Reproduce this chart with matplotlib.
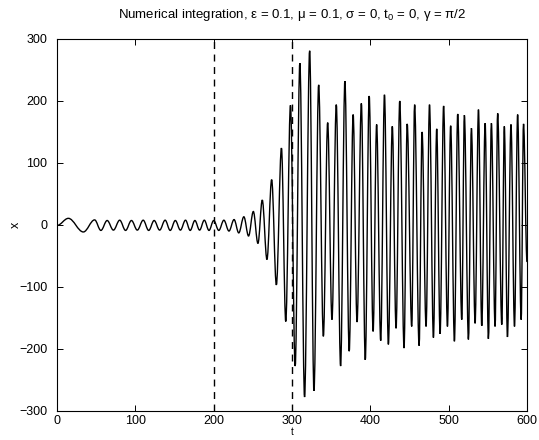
import numpy as np
import matplotlib
matplotlib.use("Agg")
import matplotlib.pyplot as plt
from matplotlib.path import Path
import matplotlib.patches as patches

# === DATA ===
t_start, x_start = 0.0, -1.0
t_end, x_end = 600.0, -60.0

# local maxima of x(t)
t_peak = [14.5, 48, 64, 80, 95, 110, 124, 138, 151, 164, 176, 188, 200, 213,
          226, 238.5, 250.6, 262, 274, 286.5, 298, 310, 322.5, 334, 345.5,
          356.5, 367.5, 378, 388.5, 398.5, 408, 418, 428, 437.5, 447, 456.5,
          466, 475.5, 484.7, 493.5, 502.5, 511.5, 520, 529, 538, 546.5, 554.5,
          562.5, 571, 579.5, 588, 595.5]
x_peak = [10.5, 8, 7, 7.5, 7, 7.5, 7, 7.5, 7, 7.5, 7, 7.5, 7, 7.5,
          8.5, 13, 21.5, 40, 73, 124, 193, 261, 281, 226, 165,
          194, 232, 178, 196, 208, 162, 210, 159, 200, 163, 194,
          150, 194, 155, 192, 160, 179, 177, 156, 186, 164, 164,
          180, 159, 162, 178, 163]

# local minima of x(t)
t_trough = [33.6, 56, 72, 87.5, 102.5, 117, 131, 144.5, 157.5, 170, 182, 194,
            206.5, 219.5, 232, 244.5, 256.5, 268, 280, 292, 304, 316, 328,
            340, 351, 362, 373, 383, 393.5, 403.5, 413.2, 423, 432.8, 443,
            452.8, 462.2, 471.1, 480.5, 489, 498.4, 507.3, 516.7, 525.2,
            533.7, 542.2, 550.7, 559.2, 567.8, 575, 584, 592.5]
x_trough = [-11.5, -9, -8.5, -9, -8.5, -9, -8.5, -9, -8.5, -9, -8.5, -9,
            -9, -10, -13, -18, -30, -56, -97, -156, -228, -278, -268,
            -180, -153, -228, -204, -157, -218, -172, -187, -193, -167, -199,
            -164, -195, -164, -182, -176, -164, -188, -153, -185,
            -159, -163, -184, -164, -161, -181, -164, -153]

t_marks = [200, 300]
x_ticks = [0, 100, 200, 300, 400, 500, 600]
y_ticks = [-300, -200, -100, 0, 100, 200, 300]

TITLE = r"Numerical integration, ε = 0.1, μ = 0.1, σ = 0, t$_0$ = 0, γ = π/2"

# === STYLE ===
plt.rcParams['font.family'] = ['Liberation Sans', 'DejaVu Sans']
plt.rcParams['mathtext.fontset'] = 'custom'
plt.rcParams['mathtext.rm'] = 'Liberation Sans'
plt.rcParams['mathtext.default'] = 'regular'

# === PLOT ===
t = np.concatenate([[t_start], t_peak, t_trough, [t_end]])
x = np.concatenate([[x_start], x_peak, x_trough, [x_end]])
order = np.argsort(t)
t, x = t[order], x[order]

# smooth swing between successive extrema: cubic bezier with flat tangents
verts = [(t[0], x[0])]
codes = [Path.MOVETO]
k = 0.36
for i in range(len(t) - 1):
    dt = t[i + 1] - t[i]
    verts += [(t[i] + k * dt, x[i]), (t[i + 1] - k * dt, x[i + 1]),
              (t[i + 1], x[i + 1])]
    codes += [Path.CURVE4] * 3

fig = plt.figure(figsize=(5.39, 4.40), dpi=100)
ax = fig.add_axes([0.1058, 0.0666, 0.872, 0.8448])

ax.add_patch(patches.PathPatch(Path(verts, codes), facecolor='none',
                               edgecolor='black', linewidth=1.0))
for tm in t_marks:
    ax.axvline(tm, color='black', linestyle=(0, (5, 4)), linewidth=1.0)

ax.set_xlim(0, 600)
ax.set_ylim(-300, 300)
ax.set_xticks(x_ticks)
ax.set_yticks(y_ticks)
ax.tick_params(direction='in', length=4, width=0.7, top=True, right=True,
               labelsize=9)
ax.tick_params(axis='x', pad=3)
ax.tick_params(axis='y', pad=7)
for sp in ax.spines.values():
    sp.set_linewidth(0.8)

ax.set_title(TITLE, fontsize=9.5, pad=15)
ax.set_xlabel('t', fontsize=7, labelpad=0)
ax.set_ylabel('x', fontsize=9, labelpad=-2, rotation=90)

fig.savefig('out.png', dpi=100)
